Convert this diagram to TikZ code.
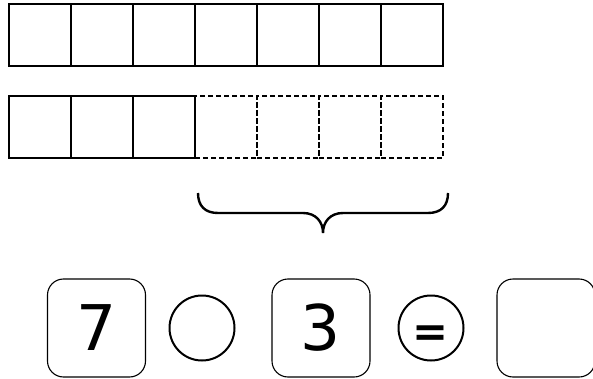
\documentclass[tikz,border=0pt]{standalone}
\usepackage{fontspec}
\setmainfont{DejaVu Sans}
\begin{document}
\begin{tikzpicture}[x=1pt, y=-1pt]
    \useasboundingbox (0,0) rectangle (593,379);
    \tikzset{
      cell/.style={draw, line width=2.2pt, minimum size=62pt, inner sep=0pt},
      ghostcell/.style={cell, dash pattern=on 5pt off 3pt},
      numbox/.style={draw, line width=1.1pt, rounded corners=16pt, minimum size=98pt, inner sep=0pt, font=\fontsize{63}{63}\selectfont},
      opcircle/.style={draw, circle, line width=2pt, inner sep=0pt}
    }
    % Top row: seven full cells
    \foreach \i in {1,...,7}
      \node[cell] (top\i) at (40+62*\i-62, 35) {};
    % Second row: three full cells, four dashed cells
    \foreach \i in {1,2,3}
      \node[cell] (low\i) at (40+62*\i-62, 127) {};
    \foreach \i in {4,...,7}
      \node[ghostcell] (low\i) at (40+62*\i-62, 127) {};
    % Brace under the dashed cells
    \coordinate (braceL) at (198,193);
    \coordinate (braceR) at (448,193);
    \coordinate (braceTip) at (323,233);
    \draw[line width=2.4pt]
      (braceL) .. controls (198,206) and (205,213) .. (218,213) -- (303,213)
      .. controls (316,213) and (323,222) .. (braceTip)
      .. controls (323,222) and (330,213) .. (343,213) -- (428,213)
      .. controls (441,213) and (448,206) .. (braceR);
    % Equation: 7 ( ) 3 = [ ]
    \node[numbox] (first) at (96.5,328) {7};
    \node[opcircle, minimum size=65pt] (op) at (202,328) {};
    \node[numbox] (second) at (321,328) {3};
    \node[opcircle, minimum size=65pt, font=\fontsize{43}{43}\bfseries\selectfont] (eq) at (431,328) {\raisebox{-18pt}[0pt][0pt]{=}};
    \node[numbox] (answer) at (546,328) {};
\end{tikzpicture}
\end{document}
